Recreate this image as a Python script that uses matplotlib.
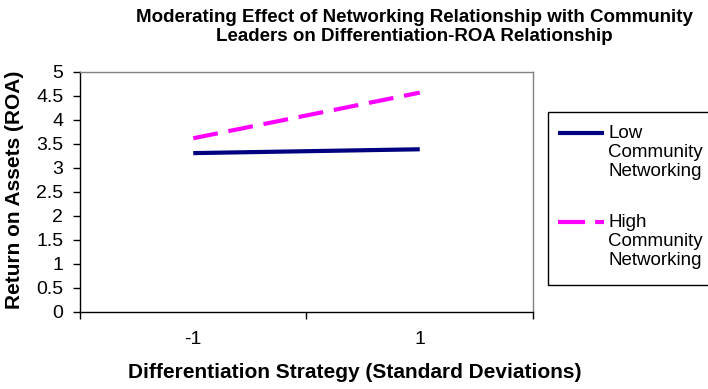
import matplotlib
matplotlib.use("Agg")
import matplotlib.pyplot as plt
from matplotlib.lines import Line2D
from matplotlib.patches import Rectangle

plt.rcParams['font.family'] = ['Liberation Sans', 'DejaVu Sans']

categories = ["-1", "1"]
low_values = [3.31, 3.39]
high_values = [3.62, 4.57]
series_names = ["Low\nCommunity\nNetworking", "High\nCommunity\nNetworking"]
yticks = [0, 0.5, 1, 1.5, 2, 2.5, 3, 3.5, 4, 4.5, 5]
ytick_labels = ["0", "0.5", "1", "1.5", "2", "2.5", "3", "3.5", "4", "4.5", "5"]

W, H = 708, 389
fig = plt.figure(figsize=(W / 100, H / 100), dpi=100)
ax = fig.add_axes([80 / W, 1 - 312 / H, (533 - 80) / W, (312 - 72) / H])

def fx(px):
    return px / W

def fy(py):
    return 1 - py / H

LOW_C = "#000080"
HIGH_C = "#FF00FF"
DASH = (6, 2.6)
xpos = [0.5, 1.5]
ax.plot(xpos, low_values, color=LOW_C, lw=3, solid_capstyle="butt")
ax.plot(xpos, high_values, color=HIGH_C, lw=3, dashes=DASH, dash_capstyle="butt")

ax.set_xlim(0, 2)
ax.set_ylim(0, 5)
ax.set_xticks([0, 1, 2])
ax.set_xticklabels([])
ax.set_xticks(xpos, minor=True)
ax.set_xticklabels(categories, minor=True, fontsize=14)
ax.tick_params(axis='x', which='minor', length=0, pad=14)
ax.tick_params(axis='x', which='major', length=5, direction='out', width=1)
ax.set_yticks(yticks)
ax.set_yticklabels(ytick_labels, fontsize=14)
ax.tick_params(axis='y', length=5, direction='out', width=1, pad=7)

for s in ["top", "right"]:
    ax.spines[s].set_color("#808080")
    ax.spines[s].set_linewidth(1)
for s in ["left", "bottom"]:
    ax.spines[s].set_color("black")
    ax.spines[s].set_linewidth(1)

fig.text(fx(15), fy(190), "Return on Assets (ROA)", rotation=90, ha="center", va="center",
         fontsize=15, fontweight="bold")
fig.text(fx(355), fy(373), "Differentiation Strategy (Standard Deviations)", ha="center", va="center",
         fontsize=15, fontweight="bold")

fig.text(fx(414), fy(27),
         "Moderating Effect of Networking Relationship with Community\nLeaders on Differentiation-ROA Relationship",
         ha="center", va="center", fontsize=13.5, fontweight="bold", linespacing=1.2)

# legend box drawn manually
fig.add_artist(Rectangle((fx(548), fy(285)), fx(720) - fx(548), fy(112) - fy(285),
                         transform=fig.transFigure, fill=False, edgecolor="black", lw=1))
fig.add_artist(Line2D([fx(558), fx(604)], [fy(133), fy(133)], transform=fig.transFigure,
                      color=LOW_C, lw=3, solid_capstyle="butt"))
fig.add_artist(Line2D([fx(558), fx(604)], [fy(222), fy(222)], transform=fig.transFigure,
                      color=HIGH_C, lw=3, dashes=(6.5, 2.4), dash_capstyle="butt"))
for name, ytop in zip(series_names, [133, 222]):
    fig.text(fx(608), fy(ytop - 8), name, ha="left", va="top", fontsize=13.5, linespacing=1.17)

fig.savefig("out.png", dpi=100)
